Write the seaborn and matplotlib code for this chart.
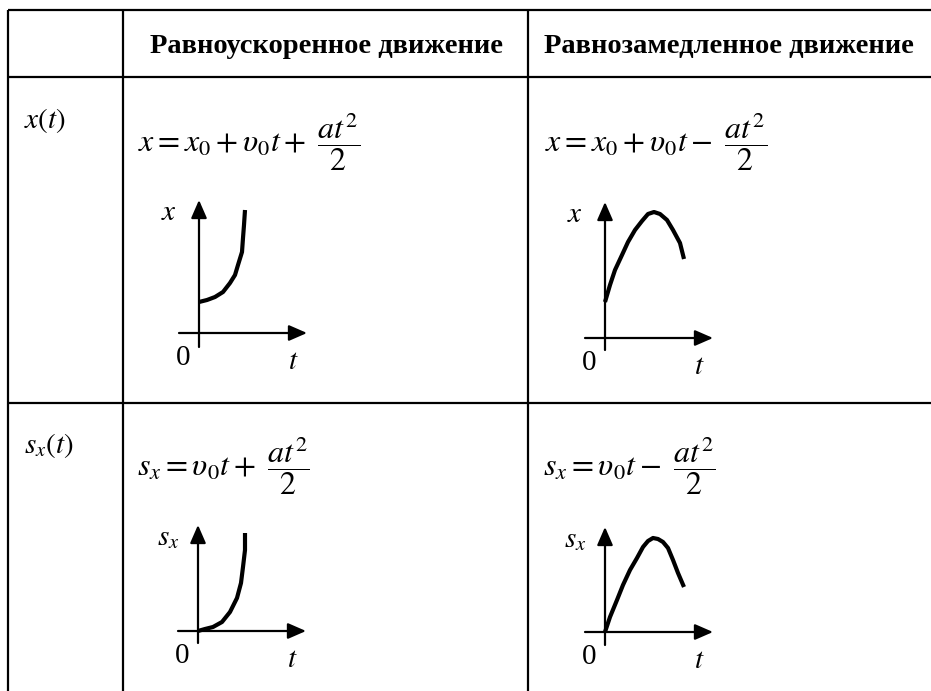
import matplotlib
matplotlib.use('Agg')
import matplotlib.pyplot as plt
import seaborn as sns
import pandas as pd

sns.set_theme(style='white')
plt.rcParams['font.family'] = ['Liberation Serif', 'DejaVu Serif']
plt.rcParams['mathtext.fontset'] = 'stix'

headers = ['Равноускоренное движение', 'Равнозамедленное движение']
row_labels = [r'$x(t)$', r'$s_x(t)$']
formulas = [[r'$x = x_0 + \upsilon_0 t +\ \dfrac{at^2}{2}$',
             r'$x = x_0 + \upsilon_0 t -\ \dfrac{at^2}{2}$'],
            [r'$s_x = \upsilon_0 t +\ \dfrac{at^2}{2}$',
             r'$s_x = \upsilon_0 t -\ \dfrac{at^2}{2}$']]
axis_names = [r'$x$', r'$s_x$']

# curves: (t, value), 1 unit = 100 px
acc_x_t = [0, .08, .16, .24, .31, .36, .39, .43, .44, .45, .46]
acc_x = [.31, .33, .36, .41, .50, .58, .68, .81, .95, 1.08, 1.23]
dec_x_t = [0, .05, .10, .17, .23, .30, .37, .43, .49, .55, .62, .68, .75, .79]
dec_x = [.36, .53, .68, .83, .96, 1.08, 1.17, 1.24, 1.26, 1.24, 1.18, 1.08, .95, .79]
acc_s_t = [0, .07, .15, .24, .32, .39, .43, .45, .47, .47]
acc_s = [0, .02, .04, .09, .19, .33, .48, .64, .81, .98]
dec_s_t = [0, .05, .12, .18, .25, .32, .38, .43, .48, .53, .58, .63, .68, .73, .79]
dec_s = [0, .15, .32, .47, .62, .74, .85, .91, .94, .93, .90, .84, .72, .59, .45]

curves = [[(acc_x_t, acc_x), (dec_x_t, dec_x)],
          [(acc_s_t, acc_s), (dec_s_t, dec_s)]]

W, H = 931, 691
fig = plt.figure(figsize=(W / 100, H / 100), dpi=100)
fig.patch.set_facecolor('white')

# table grid (pixel space)
base = fig.add_axes([0, 0, 1, 1])
base.set_xlim(0, W)
base.set_ylim(H, 0)
base.axis('off')
col_edges = [8, 123, 528]
row_edges = [10, 77, 403]
base.hlines(row_edges, col_edges[0], W, color='black', lw=1.6)
base.vlines(col_edges, row_edges[0], H, color='black', lw=1.6)

for cx, txt in zip([327, 729], headers):
    base.text(cx, 46, txt, ha='center', va='center', fontsize=20.5,
              fontweight='bold', color='black')

for ry, lab in zip([120, 445], row_labels):
    base.text(24, ry, lab, ha='left', va='center', fontsize=21, color='black')

formula_x = [[138, 545], [137, 543]]
formula_y = [142, 466]
for r in range(2):
    for c in range(2):
        base.text(formula_x[r][c], formula_y[r], formulas[r][c], ha='left',
                  va='center', fontsize=23, color='black')

# mini graphs
origins = [[(199, 333), (605, 338)], [(198, 631), (605, 632)]]
t_range = (-0.2, 1.08)
v_ranges = [[(-0.14, 1.33), (-0.12, 1.36)], [(-0.12, 1.06), (-0.13, 1.05)]]
pad = 0.06

for r in range(2):
    for c in range(2):
        ox, oy = origins[r][c]
        vmin, vmax = v_ranges[r][c]
        t0, t1 = t_range[0] - pad, t_range[1] + pad
        v0, v1 = vmin - pad, vmax + pad
        left = ox + t0 * 100
        bottom = oy - v0 * 100
        rect = [left / W, (H - bottom) / H, (t1 - t0) * 100 / W, (v1 - v0) * 100 / H]
        ax = fig.add_axes(rect)
        ax.patch.set_alpha(0)

        arrow = dict(arrowstyle='-|>,head_length=0.55,head_width=0.24',
                     mutation_scale=20, lw=1.6, color='black',
                     shrinkA=0, shrinkB=0)
        ax.annotate('', xy=(t_range[1], 0), xytext=(t_range[0], 0),
                    arrowprops=arrow, annotation_clip=False)
        ax.annotate('', xy=(0, vmax), xytext=(0, vmin),
                    arrowprops=arrow, annotation_clip=False)

        ts, vs = curves[r][c]
        df = pd.DataFrame({'t': ts, 'v': vs})
        sns.lineplot(data=df, x='t', y='v', ax=ax, color='black', lw=3,
                     sort=False, estimator=None, solid_joinstyle='round',
                     solid_capstyle='butt')
        ax.set_xlim(t0, t1)
        ax.set_ylim(v0, v1)
        ax.axis('off')

        ax.text(-0.30, vmax - 0.13, axis_names[r], ha='center', va='center',
                fontsize=21, color='black')
        ax.text(-0.16, -0.25, '0', ha='center', va='center', fontsize=21,
                color='black')
        ax.text(0.94, -0.29, r'$t$', ha='center', va='center', fontsize=21,
                color='black')

fig.savefig('out.png', dpi=100, facecolor='white')
